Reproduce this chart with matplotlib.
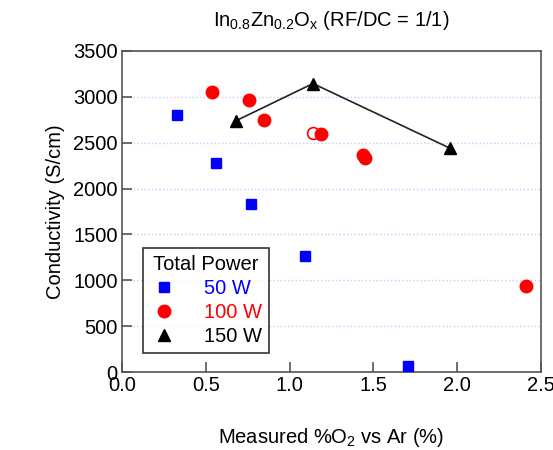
import matplotlib
matplotlib.use("Agg")
import matplotlib.pyplot as plt
from matplotlib.lines import Line2D

plt.rcParams['font.family'] = ['Liberation Sans', 'DejaVu Sans']
plt.rcParams['mathtext.fontset'] = 'custom'
plt.rcParams['mathtext.rm'] = 'Liberation Sans'
plt.rcParams['mathtext.it'] = 'Liberation Sans'

# 50 W series
o2_50 = [0.33, 0.56, 0.77, 1.09, 1.71]
cond_50 = [2800, 2275, 1834, 1264, 68]

# 100 W series (filled)
o2_100 = [0.54, 0.76, 0.85, 1.19, 1.44, 1.45, 2.41]
cond_100 = [3054, 2967, 2753, 2590, 2362, 2334, 942]

# 100 W open point
o2_100_open = [1.14]
cond_100_open = [2601]

# 150 W series, joined by a line
o2_150 = [0.68, 1.14, 1.96]
cond_150 = [2739, 3145, 2438]

FS = 14.5

fig = plt.figure(figsize=(5.53, 4.5), dpi=100)
ax = fig.add_axes([0.2206, 0.1733, 0.7574, 0.7134])

ax.plot(o2_150, cond_150, color='#222222', lw=1.2, zorder=2)
ax.plot(o2_150, cond_150, ls='none', marker='^', ms=8.5, color='black', zorder=3)
ax.plot(o2_50, cond_50, ls='none', marker='s', ms=7.5, color='#0000ff',
        mec='#0000ff', zorder=3)
ax.plot(o2_100, cond_100, ls='none', marker='o', ms=9, color='#ff0000',
        mec='#ff0000', zorder=3)
ax.plot(o2_100_open, cond_100_open, ls='none', marker='o', ms=8.5, mfc='white',
        mec='#ff0000', mew=1.2, zorder=2)

ax.set_xlim(0, 2.5)
ax.set_ylim(0, 3500)
ax.set_xticks([0, 0.5, 1.0, 1.5, 2.0, 2.5])
ax.set_xticklabels(['0.0', '0.5', '1.0', '1.5', '2.0', '2.5'])
ax.set_yticks(range(0, 3501, 500))
ax.tick_params(direction='in', length=7, width=1.2, labelsize=FS, color='#555555',
               pad=3)
ax.yaxis.grid(True, ls=':', color='#c8c8ff', lw=1)
ax.set_axisbelow(True)
for sp in ax.spines.values():
    sp.set_color('#555555')
    sp.set_linewidth(1.2)

ax.set_title(r'In$_{0.8}$Zn$_{0.2}$O$_\mathrm{x}$ (RF/DC = 1/1)', fontsize=FS, pad=18)
ax.set_ylabel('Conductivity (S/cm)', fontsize=FS, labelpad=6)
ax.set_xlabel(r'Measured %O$_2$ vs Ar (%)', fontsize=FS, labelpad=22)

handles = [
    Line2D([], [], ls='none', marker='s', ms=7.5, color='#0000ff'),
    Line2D([], [], ls='none', marker='o', ms=9, color='#ff0000'),
    Line2D([], [], ls='none', marker='^', ms=8.5, color='black'),
]
leg = ax.legend(handles, ['50 W', '100 W', '150 W'], title='Total Power',
                loc='lower left', bbox_to_anchor=(0.05, 0.059), fontsize=FS,
                title_fontsize=FS, frameon=True, fancybox=False, edgecolor='black',
                handletextpad=1.3, borderpad=0.35, labelspacing=0.25,
                handlelength=1.4, borderaxespad=0)
leg.get_frame().set_linewidth(1.2)
for txt, c in zip(leg.get_texts(), ['#0000ff', '#ff0000', 'black']):
    txt.set_color(c)

fig.savefig('out.png', dpi=100)
